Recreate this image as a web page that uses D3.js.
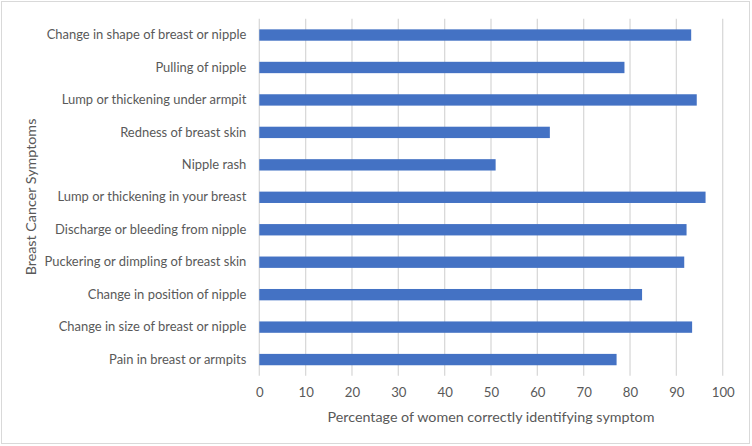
<!DOCTYPE html>
<html>
<head>
<meta charset="utf-8">
<script src="https://cdn.jsdelivr.net/npm/d3@7"></script>
<style>
  body{margin:0;background:#fff;}
  svg text{font-family:Lato,"Open Sans",sans-serif;fill:#595959;}
</style>
</head>
<body>
<svg id="chart" width="752" height="446"></svg>
<script>
'use strict';

var symptoms=[
    'Change in shape of breast or nipple',
    'Pulling of nipple',
    'Lump or thickening under armpit',
    'Redness of breast skin',
    'Nipple rash',
    'Lump or thickening in your breast',
    'Discharge or bleeding from nipple',
    'Puckering or dimpling of breast skin',
    'Change in position of nipple',
    'Change in size of breast or nipple',
    'Pain in breast or armpits'
];
var percents=[93.2,78.8,94.4,62.7,51.0,96.3,92.2,91.7,82.6,93.4,77.1];
var xTicks=[0,10,20,30,40,50,60,70,80,90,100];

var svg=d3.select('#chart')
  , plotLeft=259.3
  , plotRight=722.7
  , plotTop=18.8
  , plotBottom=375.8;

// outer frame
svg.append('rect')
    .attr('x',1.5).attr('y',1.5)
    .attr('width',748).attr('height',442)
    .attr('fill','#fff')
    .attr('stroke','#d9d9d9');

var x=d3.scaleLinear().domain([0,100]).range([plotLeft,plotRight])
  , y=d3.scaleBand().domain(symptoms).range([plotTop,plotBottom]).paddingInner(0.65).paddingOuter(0.325);

// grid
svg.append('g').selectAll('line')
    .data(xTicks)
    .enter().append('line')
    .attr('x1',function(d){return x(d);})
    .attr('x2',function(d){return x(d);})
    .attr('y1',plotTop)
    .attr('y2',plotBottom)
    .attr('stroke','#d9d9d9')
    .attr('stroke-width',1.3);

// bars
svg.append('g').selectAll('rect')
    .data(symptoms)
    .enter().append('rect')
    .attr('x',x(0))
    .attr('y',function(d){return y(d);})
    .attr('width',function(d,i){return x(percents[i])-x(0);})
    .attr('height',y.bandwidth())
    .attr('fill','#4472c4');

// x axis
var xAxis=svg.append('g')
    .attr('transform','translate(0,'+plotBottom+')')
    .call(d3.axisBottom(x).tickValues(xTicks).tickSize(0).tickPadding(12));
xAxis.select('.domain').remove();
xAxis.selectAll('text').attr('font-size',13.2).style('fill','#595959');

// y axis
var yAxis=svg.append('g')
    .attr('transform','translate('+plotLeft+',0)')
    .call(d3.axisLeft(y).tickSize(0).tickPadding(13));
yAxis.select('.domain').remove();
yAxis.selectAll('text').attr('font-size',12.95).style('fill','#595959');

// titles
svg.append('text')
    .attr('x',(plotLeft+plotRight)/2)
    .attr('y',422)
    .attr('text-anchor','middle')
    .attr('font-size',14.3)
    .text('Percentage of women correctly identifying symptom');

svg.append('text')
    .attr('transform','translate(36,197) rotate(-90)')
    .attr('text-anchor','middle')
    .attr('font-size',14.3)
    .text('Breast Cancer Symptoms');
</script>
</body>
</html>
